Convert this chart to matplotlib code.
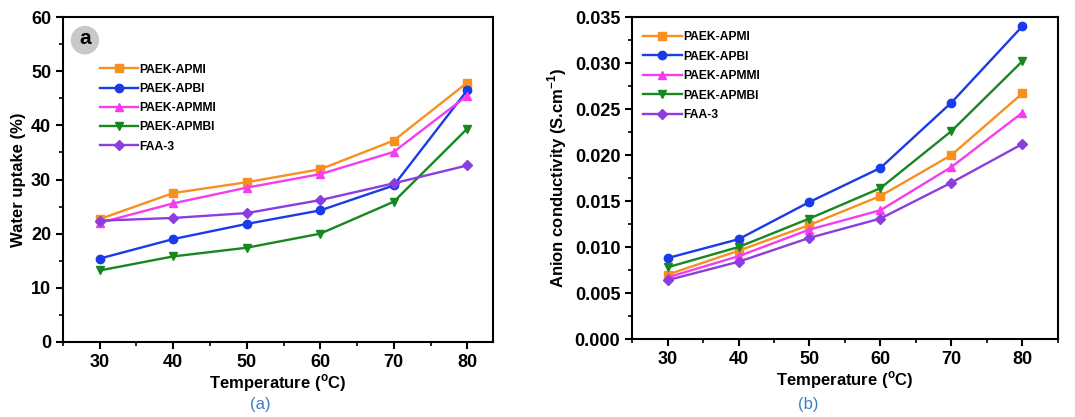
import matplotlib
matplotlib.use('Agg')
import matplotlib.pyplot as plt
from matplotlib.ticker import MultipleLocator, AutoMinorLocator
from matplotlib.patches import Ellipse

plt.rcParams['font.family'] = ['Liberation Sans', 'DejaVu Sans']
plt.rcParams['font.weight'] = 'bold'

# Data
temps = [30, 40, 50, 60, 70, 80]
names = ['PAEK-APMI', 'PAEK-APBI', 'PAEK-APMMI', 'PAEK-APMBI', 'FAA-3']

uptake_apmi = [22.7, 27.5, 29.5, 31.9, 37.2, 47.9]
uptake_apbi = [15.4, 19.0, 21.8, 24.3, 28.9, 46.5]
uptake_apmmi = [22.0, 25.6, 28.5, 31.0, 35.1, 45.5]
uptake_apmbi = [13.2, 15.8, 17.4, 20.0, 25.9, 39.4]
uptake_faa3 = [22.4, 22.9, 23.8, 26.2, 29.3, 32.6]

cond_apmi = [0.0070, 0.0096, 0.0124, 0.01555, 0.0200, 0.0267]
cond_apbi = [0.0088, 0.01085, 0.0149, 0.0186, 0.0257, 0.0340]
cond_apmmi = [0.0067, 0.0090, 0.0119, 0.0140, 0.0187, 0.0246]
cond_apmbi = [0.0078, 0.0100, 0.0131, 0.0164, 0.0226, 0.0302]
cond_faa3 = [0.0064, 0.0084, 0.0110, 0.0131, 0.0170, 0.0212]

colors = ['#f7901e', '#1a3be8', '#f53cf0', '#17871f', '#8a3ee0']
markers = ['s', 'o', '^', 'v', 'D']
msizes = [5.5, 6, 6, 6, 5.5]

fig = plt.figure(figsize=(10.75, 4.17), dpi=100)
ax1 = fig.add_axes([0.0586, 0.180, 0.40, 0.779])
ax2 = fig.add_axes([0.588, 0.187, 0.396, 0.772])

uptakes = [uptake_apmi, uptake_apbi, uptake_apmmi, uptake_apmbi, uptake_faa3]
conds = [cond_apmi, cond_apbi, cond_apmmi, cond_apmbi, cond_faa3]

for ax, series in [(ax1, uptakes), (ax2, conds)]:
    for ys, name, c, m, ms in zip(series, names, colors, markers, msizes):
        ax.plot(temps, ys, color=c, marker=m, markersize=ms, linewidth=1.7, label=name)
    ax.xaxis.set_major_locator(MultipleLocator(10))
    ax.xaxis.set_minor_locator(AutoMinorLocator(2))
    ax.yaxis.set_minor_locator(AutoMinorLocator(2))
    ax.tick_params(which='major', direction='out', length=5, width=1.5, labelsize=13)
    ax.tick_params(which='minor', direction='out', length=3, width=1.2)
    for s in ax.spines.values():
        s.set_linewidth(1.5)
    ax.set_xlabel('Temperature ($^\\mathregular{o}$C)', fontsize=12, fontweight='bold', labelpad=1)

ax1.set_xlim(25, 83.5)
ax1.set_ylim(0, 60)
ax1.yaxis.set_major_locator(MultipleLocator(10))
ax1.set_ylabel('Water uptake (%)', fontsize=12, fontweight='bold')
ax1.legend(loc='upper left', bbox_to_anchor=(0.06, 0.89), frameon=False,
           prop={'weight': 'bold', 'size': 8.7}, handlelength=3.2,
           handletextpad=0.1, labelspacing=0.6)
ax1.add_patch(Ellipse((0.051, 0.929), 0.066, 0.088, transform=ax1.transAxes,
                      facecolor='#c8c8c8', edgecolor='none'))
ax1.text(0.051, 0.934, 'a', transform=ax1.transAxes, ha='center', va='center',
         fontsize=15, fontweight='bold')

ax2.set_xlim(25, 85)
ax2.set_ylim(0, 0.035)
ax2.yaxis.set_major_locator(MultipleLocator(0.005))
ax2.yaxis.set_major_formatter(matplotlib.ticker.FormatStrFormatter('%.3f'))
ax2.set_ylabel('Anion conductivity (S.cm$^\\mathregular{-1}$)', fontsize=12, fontweight='bold')
ax2.legend(loc='upper left', bbox_to_anchor=(0.0, 0.99), frameon=False,
           prop={'weight': 'bold', 'size': 8.7}, handlelength=3.2,
           handletextpad=0.1, labelspacing=0.62)

for ax in (ax1, ax2):
    for lab in ax.get_xticklabels() + ax.get_yticklabels():
        lab.set_fontweight('bold')

fig.text(0.242, 0.018, '(a)', color='#3d7fc9', fontsize=12, fontweight='light', ha='center')
fig.text(0.752, 0.018, '(b)', color='#3d7fc9', fontsize=12, fontweight='light', ha='center')

fig.savefig('out.png', dpi=100)
